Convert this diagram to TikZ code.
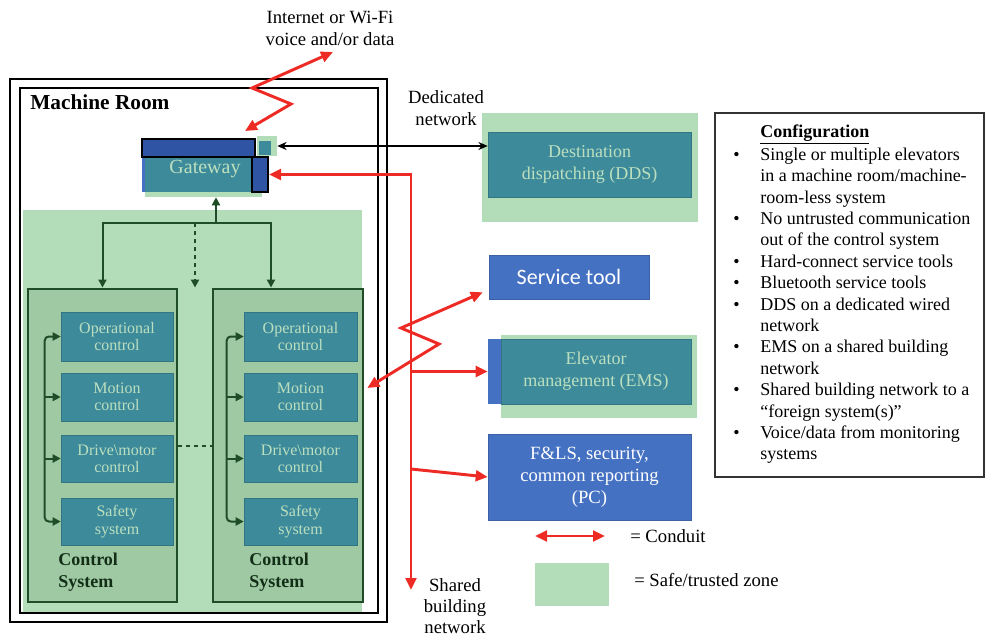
\documentclass[tikz,border=0pt]{standalone}
\usepackage{fontspec}
\setmainfont{Liberation Serif}
\newfontfamily\calibri{Carlito}
\usetikzlibrary{arrows.meta,calc}
\definecolor{zone}{HTML}{B3DDB8}
\definecolor{csfill}{HTML}{9FC9A3}
\definecolor{csline}{HTML}{1E4D27}
\definecolor{tealb}{HTML}{3D8A9B}
\definecolor{tealtxt}{HTML}{BCE0BF}
\definecolor{blueb}{HTML}{4571C2}
\definecolor{dblue}{HTML}{2E54A3}
\definecolor{redc}{HTML}{EE2A24}
\newcommand{\bx}[7]{\node[#6, minimum width={(#4-#2)*0.75pt}, minimum height={(#5-#3)*0.75pt}] (#1) at ({(#2+#4)/2},{(#3+#5)/2}) {#7};}
\tikzset{
  zonebox/.style={fill=zone, draw=none, inner sep=0pt},
  csbox/.style={fill=csfill, draw=csline, line width=2.2pt, inner sep=0pt},
  tealbox/.style={fill=tealb, draw=tealb!85!black, line width=0.4pt, text=tealtxt, align=center, inner sep=0pt},
  smallteal/.style={tealbox, font=\fontsize{12}{13}\selectfont},
  bluebox/.style={fill=blueb, draw=blueb!85!black, line width=0.4pt, text=white, align=center, inner sep=0pt},
  plain/.style={font=\fontsize{14}{16.5}\selectfont, align=center, inner sep=0pt},
  redarr/.style={draw=redc, line width=2.2pt, -{Triangle[length=9pt,width=8pt]}},
  redboth/.style={draw=redc, line width=2.2pt, {Triangle[length=9pt,width=8pt]}-{Triangle[length=9pt,width=8pt]}},
  dgarr/.style={draw=csline, line width=1.5pt, -{Triangle[length=6pt,width=6pt]}},
  dgboth/.style={draw=csline, line width=1.5pt, rounded corners=3pt, {Triangle[length=6pt,width=6pt]}-{Triangle[length=6pt,width=6pt]}},
  cfgtext/.style={font=\fontsize{13.5}{16.2}\selectfont, anchor=west, inner sep=0pt, text height=9.5pt, text depth=3pt}
}
\begin{document}
\begin{tikzpicture}[x=0.75pt,y=-0.75pt]
\useasboundingbox[fill=white] (0,0) rectangle (988,640);

% Machine room
\bx{mrout}{10}{79}{387}{622}{draw=black, line width=2.2pt, inner sep=0pt}{}
\bx{mrin}{20}{88}{378}{613}{draw=black, line width=2.2pt, inner sep=0pt}{}
\bx{cszone}{23}{210}{362}{612}{zonebox}{}
\node[font=\bfseries\fontsize{16}{18}\selectfont, anchor=west, inner sep=0pt] (mrlabel) at (30,102) {Machine Room};

% Gateway
\bx{gwzone}{145}{160}{262}{197}{zonebox}{}
\bx{gwsq}{257}{136}{277}{156}{zonebox}{}
\bx{gwsqin}{259}{141}{271}{155}{fill=tealb, inner sep=0pt}{}
\bx{gw}{142}{157}{262}{192}{fill=tealb, inner sep=0pt}{}
\bx{gwedge}{142}{157}{145}{192}{fill=blueb, inner sep=0pt}{}
\bx{gwtop}{142}{139}{255}{157}{fill=dblue, draw=black, line width=1.5pt, inner sep=0pt}{}
\bx{gwright}{252}{157}{268}{192}{fill=dblue, draw=black, line width=1.5pt, inner sep=0pt}{}
\node[text=tealtxt, font=\fontsize{15}{17}\selectfont, inner sep=0pt] (gwlabel) at (205,169) {Gateway};

% Control systems
\bx{csL}{28}{289}{177}{602}{csbox}{}
\bx{csR}{213}{289}{363}{602}{csbox}{}
\bx{opL}{61}{312}{173}{361}{smallteal}{Operational\\control}
\bx{moL}{61}{373}{173}{421}{smallteal}{Motion\\control}
\bx{drL}{61}{435}{173}{482}{smallteal}{Drive\textbackslash motor\\control}
\bx{sfL}{61}{498}{173}{545}{smallteal}{Safety\\system}
\bx{opR}{244}{312}{357}{361}{smallteal}{Operational\\control}
\bx{moR}{244}{373}{357}{421}{smallteal}{Motion\\control}
\bx{drR}{244}{435}{357}{482}{smallteal}{Drive\textbackslash motor\\control}
\bx{sfR}{244}{498}{357}{545}{smallteal}{Safety\\system}
\node[font=\bfseries\fontsize{13.5}{16.5}\selectfont, text=csline!60!black, align=left, anchor=west, inner sep=0pt] (csLlabel) at (58,572) {Control\\System};
\node[font=\bfseries\fontsize{13.5}{16.5}\selectfont, text=csline!60!black, align=left, anchor=west, inner sep=0pt] (csRlabel) at (249,572) {Control\\System};

% internal brackets
\draw[dgboth] (opL.west) -- ++(-16,0) |- (sfL.west);
\draw[dgarr] ($(moL.west)+(-16,0)$) -- (moL.west);
\draw[dgarr] ($(drL.west)+(-16,0)$) -- (drL.west);
\draw[dgboth] (opR.west) -- ++(-17,0) |- (sfR.west);
\draw[dgarr] ($(moR.west)+(-17,0)$) -- (moR.west);
\draw[dgarr] ($(drR.west)+(-17,0)$) -- (drR.west);
\draw[csline, line width=1.5pt, dashed] (csL.east) -- (csR.west);

% tree to gateway
\coordinate (split) at (216,223);
\coordinate (dtop) at (195,223);
\draw[dgarr] (split) -- (split |- gwzone.south);
\draw[dgarr] (split) -| (csL.north);
\draw[dgarr] (split) -| ($(csR.north)+(-17,0)$);
\draw[dgarr, dashed] (dtop) -- (dtop |- csL.north);

% Internet
\node[plain] (inettext) at (330,28) {Internet or Wi-Fi\\voice and/or data};
\coordinate (inet) at (333,52);
\coordinate (gwin) at (245,131);
\draw[redboth] (inet) -- (252,88) -- (291,104) -- (gwin);

% Right side systems
\bx{ddszone}{482}{113}{698}{222}{zonebox}{}
\bx{dds}{488}{132}{691}{197}{tealbox, font=\fontsize{13.5}{16.5}\selectfont}{Destination\\dispatching (DDS)}
\node[plain] (dedtext) at (446,108) {Dedicated\\network};
\draw[line width=1.2pt, {Stealth[length=7pt,width=6pt]}-{Stealth[length=7pt,width=6pt]}] (gwsq.east) -- (dds.west |- gwsq.east);

\bx{st}{489}{255}{649}{299}{bluebox, font=\calibri\fontsize{16.5}{19}\selectfont}{Service tool}

\bx{emsblue}{488}{339}{510}{404}{fill=blueb, inner sep=0pt}{}
\bx{emszone}{501}{335}{697}{418}{zonebox}{}
\bx{ems}{501}{339}{691}{404}{tealbox, font=\fontsize{13.5}{16.5}\selectfont}{Elevator\\management (EMS)}

\bx{fls}{488}{434}{691}{520}{bluebox, font=\fontsize{14}{16.5}\selectfont}{F\&LS, security,\\common reporting\\(PC)}

% Shared building network
\coordinate (sbn) at (411,590);
\draw[redboth] (sbn) |- (gwright.east);
\draw[redarr] (sbn |- emsblue.west) -- (emsblue.west);
\draw[redarr] ($(sbn |- fls.west)+(0,-8)$) -- (fls.west);
\node[plain, font=\fontsize{14}{15.8}\selectfont] (sbntext) at (455,606) {Shared\\building\\network};

% Service tool zigzag
\coordinate (stin) at ($(st.south west)+(-6,-7)$);
\coordinate (moin) at ($(moR.east)+(10,-9)$);
\draw[redboth] (stin) -- (401,328) -- (439,344) -- (moin);

% Legend
\coordinate (lega) at (535,536);
\coordinate (legb) at (605,536);
\draw[redboth] (lega) -- (legb);
\node[plain, anchor=west] (legt1) at (630,536) {= Conduit};
\bx{leg2}{535}{563}{609}{606}{zonebox}{}
\node[plain, anchor=west] (legt2) at (634,580) {= Safe/trusted zone};

% Configuration
\bx{cfg}{715}{113}{984}{477}{draw=black!80, line width=1.5pt, inner sep=0pt}{}
\node[cfgtext, font=\bfseries\fontsize{13.5}{16.2}\selectfont] (cfgtitle) at (760,133) {\underline{Configuration}};
\foreach \t [count=\i] in {
  Single or multiple elevators,
  in a machine room/machine-,
  room-less system,
  No untrusted communication,
  out of the control system,
  Hard-connect service tools,
  Bluetooth service tools,
  DDS on a dedicated wired,
  network,
  EMS on a shared building,
  network,
  Shared building network to a,
  ``foreign system(s)'',
  Voice/data from monitoring,
  systems}{
  \node[cfgtext] (cfg\i) at (760,{156+21.4*(\i-1)}) {\t};
}
\foreach \i in {1,4,6,7,8,10,12,14}{
  \node[cfgtext] (cfgb\i) at (733,{156+21.4*(\i-1)}) {•};
}
\end{tikzpicture}
\end{document}
